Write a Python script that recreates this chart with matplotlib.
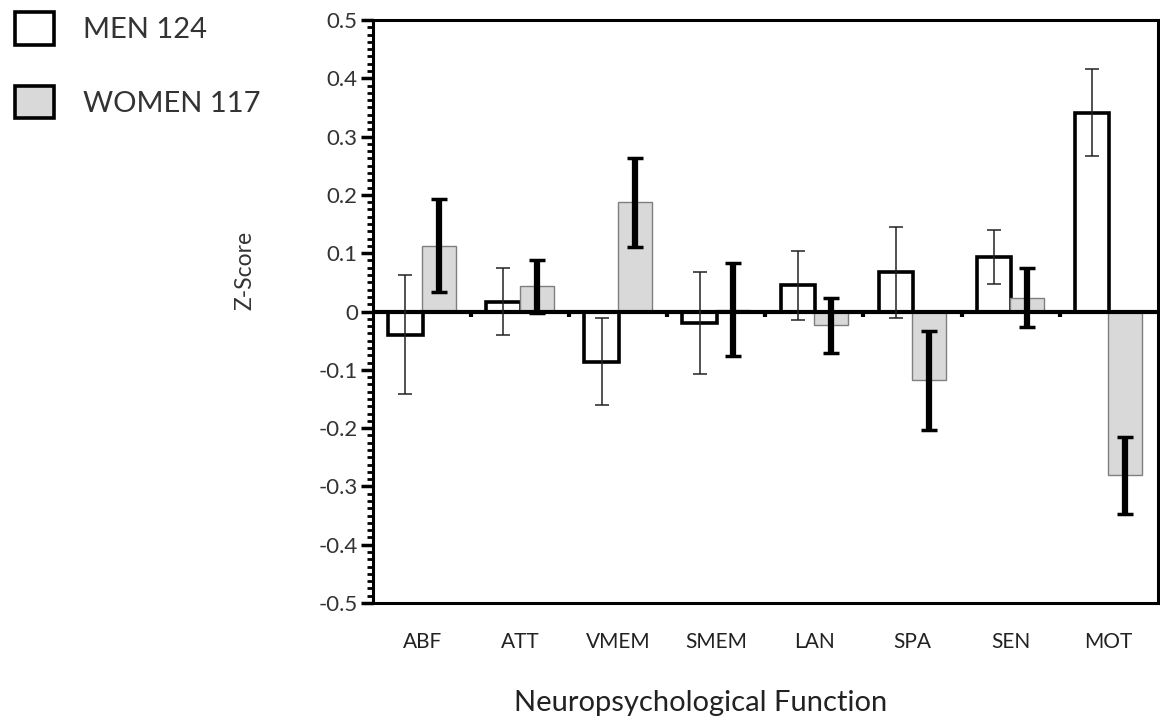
import numpy as np
import matplotlib
matplotlib.use("Agg")
import matplotlib.pyplot as plt
from matplotlib.patches import Patch
from matplotlib.ticker import MultipleLocator

plt.rcParams['font.family'] = ['Lato', 'DejaVu Sans']

# data
categories = ['ABF', 'ATT', 'VMEM', 'SMEM', 'LAN', 'SPA', 'SEN', 'MOT']
men = [-0.040, 0.017, -0.086, -0.020, 0.045, 0.067, 0.093, 0.341]
men_err = [0.102, 0.057, 0.075, 0.088, 0.059, 0.078, 0.046, 0.075]
women = [0.113, 0.043, 0.187, 0.003, -0.024, -0.118, 0.024, -0.281]
women_err = [0.080, 0.046, 0.077, 0.080, 0.048, 0.085, 0.051, 0.066]
men_label = 'MEN 124'
women_label = 'WOMEN 117'

x = np.arange(len(categories))
w = 0.35
off = 0.17

fig = plt.figure(figsize=(11.6, 7.2), dpi=100)
ax = fig.add_axes([0.3216, 0.1625, 0.6764, 0.8097])

ax.bar(x - off, men, w, color='white', edgecolor='black', linewidth=2.6, zorder=2)
ax.bar(x + off, women, w, color='#d9d9d9', edgecolor='#7f7f7f', linewidth=1.0, zorder=2)
ax.errorbar(x - off, men, yerr=men_err, fmt='none', ecolor='#222222',
            elinewidth=1.1, capsize=5, capthick=1.1, zorder=4)
ax.errorbar(x + off, women, yerr=women_err, fmt='none', ecolor='black',
            elinewidth=4.5, capsize=6, capthick=2.5, zorder=4)

# zero line with group separators
ax.axhline(0, color='black', linewidth=3, zorder=3)
bounds = x[:-1] + 0.5
ax.vlines(bounds, -0.010, 0, color='black', linewidth=3, zorder=3)

ax.set_xlim(-0.5, len(categories) - 0.5)
ax.set_ylim(-0.5, 0.5)
ax.yaxis.set_major_locator(MultipleLocator(0.1))
ax.yaxis.set_minor_locator(MultipleLocator(0.0125))
ticks = ax.get_yticks()
ax.set_yticks(ticks)
ax.set_yticklabels(['0' if abs(v) < 1e-9 else '%.1f' % v for v in ticks])
ax.set_ylim(-0.5, 0.5)
ax.tick_params(axis='y', which='major', direction='out', length=9, width=2.5,
               labelsize=16, pad=2, colors='black')
ax.tick_params(axis='y', which='minor', direction='out', length=4, width=2)
ax.tick_params(axis='y', labelcolor='#333333')

ax.set_xticks(x)
ax.set_xticklabels(categories)
ax.tick_params(axis='x', length=0, labelsize=15, pad=21, labelcolor='#222222')

for sp in ax.spines.values():
    sp.set_linewidth(2.2)
    sp.set_color('black')

ax.set_ylabel('Z-Score', fontsize=16.5, color='#333333')
ax.yaxis.set_label_coords(-0.150, 0.57)
ax.set_xlabel('Neuropsychological Function', fontsize=21, color='#222222')
ax.xaxis.set_label_coords(0.417, -0.149)

handles = [Patch(facecolor='white', edgecolor='black', linewidth=2.6),
           Patch(facecolor='#d9d9d9', edgecolor='black', linewidth=2.6)]
leg = fig.legend(handles, [men_label, women_label], loc='upper left',
                 bbox_to_anchor=(15 / 1160, 1 - 12 / 720), frameon=False, fontsize=21,
                 handlelength=1.32, handleheight=1.35, handletextpad=1.0,
                 labelspacing=1.4, borderaxespad=0, borderpad=0)
for t in leg.get_texts():
    t.set_color('#333333')

fig.savefig('out.png', dpi=100)
